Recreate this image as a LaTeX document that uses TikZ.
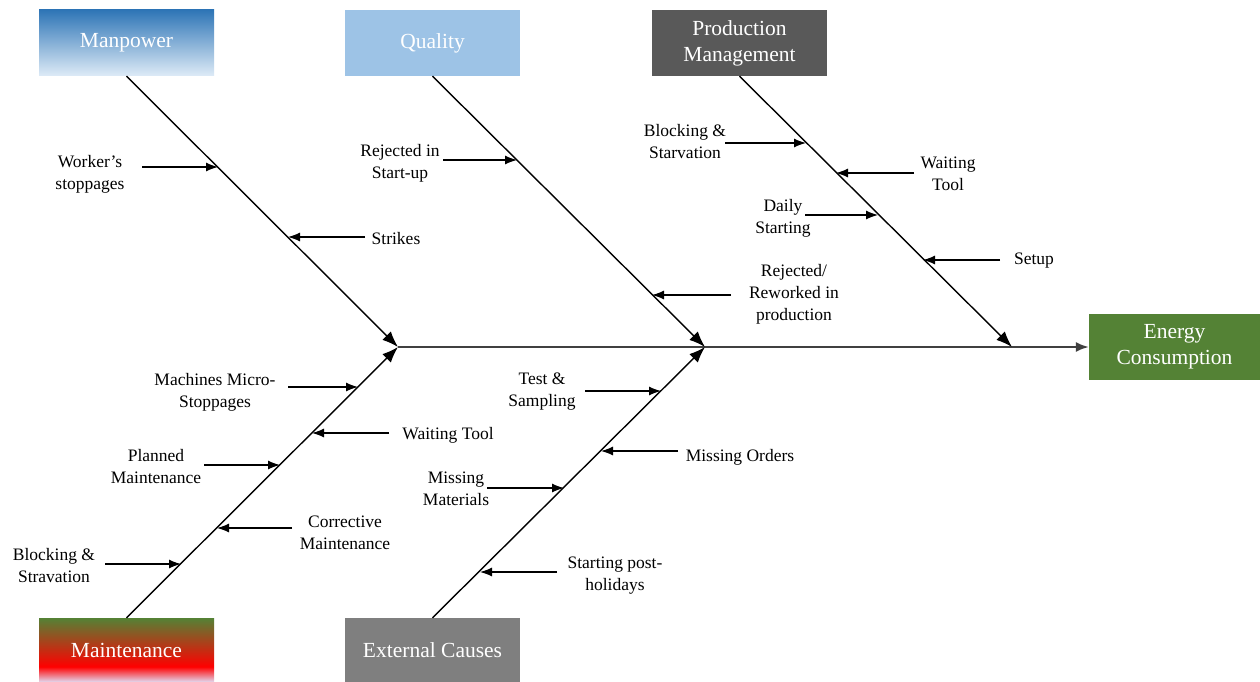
\documentclass[tikz,border=0pt]{standalone}
\usepackage{fontspec}
\setmainfont{Liberation Serif}
\usetikzlibrary{positioning, calc}
\usetikzlibrary{arrows.meta}
\tikzset{>={Latex[width=9pt,length=12pt]}}
\tikzset{
  font={\fontsize{17.5pt}{22pt}\selectfont}}
\definecolor{manblue}{HTML}{2E75B6}
\definecolor{manlight}{HTML}{DEEBF7}
\definecolor{qualblue}{HTML}{9DC3E6}
\definecolor{proddark}{HTML}{595959}
\definecolor{extgrey}{HTML}{7F7F7F}
\definecolor{energygreen}{HTML}{548235}
\definecolor{mgreen}{HTML}{548235}
\definecolor{mred}{HTML}{FF0000}
\definecolor{mlight}{HTML}{E2D9F0}
\definecolor{spinegrey}{HTML}{404040}
\pgfdeclareverticalshading{maintshade}{100bp}{color(0bp)=(mlight); color(25bp)=(mlight);
  color(37bp)=(mred); color(75bp)=(mgreen); color(100bp)=(mgreen)}
\tikzset{
  cause/.style={minimum width=175pt, minimum height=66pt, text=white, align=center,
    inner sep=2pt, font={\fontsize{21.5pt}{26pt}\selectfont}},
  lbl/.style={align=center, inner sep=1pt},
  bone/.style={-{Latex[width=12pt,length=16pt]}, line width=1.4pt, black},
  sub/.style={-{Latex[width=9pt,length=12pt]}, line width=1.2pt, black}
}

\begin{document}
\begin{tikzpicture}[x=1pt, y=-1pt]
     \useasboundingbox (0,0) rectangle (1260,682);

     % cause boxes
     \node[cause, top color=manblue, bottom color=manlight] (manpower) at (126.5,43) {Manpower};
     \node[cause, fill=qualblue] (quality) at (432.5,43) {Quality};
     \node[cause, fill=proddark] (prodman) at (739.5,43) {Production\\Management};
     \node[cause, shading=maintshade, minimum height=64pt] (maint) at (126.5,650) {Maintenance};
     \node[cause, fill=extgrey, minimum height=64pt] (external) at (432.5,650) {External Causes};
     \node[cause, fill=energygreen, minimum width=171pt] (energy) at (1174.5,347) {Energy\\Consumption};

     % junctions on the spine
     \coordinate (j1) at (398,347);
     \coordinate (j2) at (705,347);
     \coordinate (j3) at (1012,347);

     \draw[-{Latex[width=10pt,length=13pt]}, line width=2pt, spinegrey] (j1) -- (energy.west);
     \draw[bone] (manpower.south) -- (j1);
     \draw[bone] (maint.north) -- (j1);
     \draw[bone] (quality.south) -- (j2);
     \draw[bone] (external.north) -- (j2);
     \draw[bone] (prodman.south) -- (j3);

     %% Manpower
     \node[lbl] (worker) at (90,174) {Worker's\\stoppages};
     \coordinate (worker-t) at (142,167);
     \coordinate (worker-h) at (218,167);
     \draw[sub] (worker-t) -- (worker-h);
     \node[lbl] (strikes) at (396,239) {Strikes};
     \coordinate (strikes-t) at (365,237);
     \coordinate (strikes-h) at (288,237);
     \draw[sub] (strikes-t) -- (strikes-h);

     %% Quality
     \node[lbl] (rejstart) at (400,163) {Rejected in\\Start-up};
     \coordinate (rejstart-t) at (443,160);
     \coordinate (rejstart-h) at (517,160);
     \draw[sub] (rejstart-t) -- (rejstart-h);
     \node[lbl] (rejprod) at (794,294) {Rejected/\\Reworked in\\production};
     \coordinate (rejprod-t) at (731,295);
     \coordinate (rejprod-h) at (652,295);
     \draw[sub] (rejprod-t) -- (rejprod-h);

     %% Production Management
     \node[lbl] (blockprod) at (685,142) {Blocking \&\\Starvation};
     \coordinate (blockprod-t) at (725,143);
     \coordinate (blockprod-h) at (806,143);
     \draw[sub] (blockprod-t) -- (blockprod-h);
     \node[lbl] (waitprod) at (948,174) {Waiting\\Tool};
     \coordinate (waitprod-t) at (914,173);
     \coordinate (waitprod-h) at (836,173);
     \draw[sub] (waitprod-t) -- (waitprod-h);
     \node[lbl] (daily) at (783,218) {Daily\\Starting};
     \coordinate (daily-t) at (805,215);
     \coordinate (daily-h) at (878,215);
     \draw[sub] (daily-t) -- (daily-h);
     \node[lbl] (setup) at (1034,261) {Setup};
     \coordinate (setup-t) at (1000,260);
     \coordinate (setup-h) at (923,260);
     \draw[sub] (setup-t) -- (setup-h);

     %% Maintenance
     \node[lbl] (micro) at (215,392) {Machines Micro-\\Stoppages};
     \coordinate (micro-t) at (288,387);
     \coordinate (micro-h) at (358,387);
     \draw[sub] (micro-t) -- (micro-h);
     \node[lbl] (waitmaint) at (448,435) {Waiting Tool};
     \coordinate (waitmaint-t) at (389,433);
     \coordinate (waitmaint-h) at (312,433);
     \draw[sub] (waitmaint-t) -- (waitmaint-h);
     \node[lbl] (planned) at (156,467) {Planned\\Maintenance};
     \coordinate (planned-t) at (204,465);
     \coordinate (planned-h) at (280,465);
     \draw[sub] (planned-t) -- (planned-h);
     \node[lbl] (corrective) at (345,533) {Corrective\\Maintenance};
     \coordinate (corrective-t) at (292,528);
     \coordinate (corrective-h) at (217,528);
     \draw[sub] (corrective-t) -- (corrective-h);
     \node[lbl] (blockmaint) at (54,566) {Blocking \&\\Stravation};
     \coordinate (blockmaint-t) at (105,564);
     \coordinate (blockmaint-h) at (181,564);
     \draw[sub] (blockmaint-t) -- (blockmaint-h);

     %% External Causes
     \node[lbl] (test) at (542,392) {Test \&\\Sampling};
     \coordinate (test-t) at (585,391);
     \coordinate (test-h) at (661,391);
     \draw[sub] (test-t) -- (test-h);
     \node[lbl] (orders) at (740,457) {Missing Orders};
     \coordinate (orders-t) at (678,451);
     \coordinate (orders-h) at (601,451);
     \draw[sub] (orders-t) -- (orders-h);
     \node[lbl] (materials) at (456,489) {Missing\\Materials};
     \coordinate (materials-t) at (487,488);
     \coordinate (materials-h) at (564,488);
     \draw[sub] (materials-t) -- (materials-h);
     \node[lbl] (holidays) at (615,576) {Starting post-\\holidays};
     \coordinate (holidays-t) at (557,572);
     \coordinate (holidays-h) at (480,572);
     \draw[sub] (holidays-t) -- (holidays-h);
   \end{tikzpicture}
\end{document}
